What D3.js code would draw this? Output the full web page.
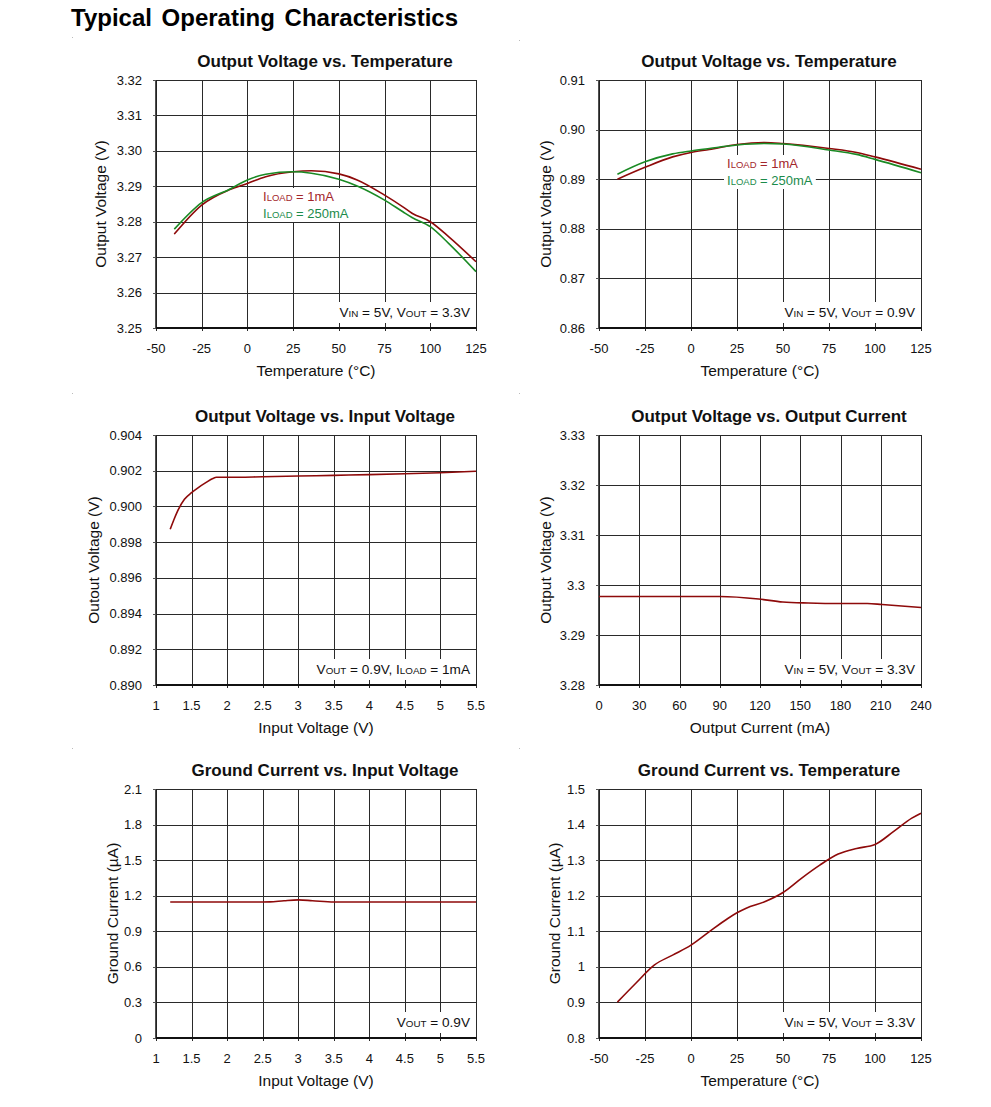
<!DOCTYPE html>
<html>
<head>
<meta charset="utf-8">
<script src="https://cdn.jsdelivr.net/npm/d3@7"></script>
<style>
  html, body { margin: 0; padding: 0; background: #fff; }
  svg { display: block; font-family: "Liberation Sans", Arial, sans-serif; }
</style>
</head>
<body>
<svg id="chart" width="991" height="1107"></svg>
<script>
// ---------- DATA ----------
// Chart 1: Output Voltage vs Temperature (3.3V)
const tempC1 = [-40, -25, -10, 0, 10, 25, 35, 50, 60, 75, 85, 90, 100, 110, 125];
const vout33_1mA   = [3.2765, 3.2847, 3.2890, 3.2908, 3.2927, 3.2941, 3.2944, 3.2935, 3.2918, 3.2875, 3.2842, 3.2824, 3.2800, 3.2758, 3.2687];
const vout33_250mA = [3.2779, 3.2854, 3.2891, 3.2918, 3.2934, 3.2941, 3.2937, 3.2920, 3.2901, 3.2861, 3.2828, 3.2812, 3.2786, 3.2739, 3.2659];

// Chart 2: Output Voltage vs Temperature (0.9V)
const tempC2 = [-40, -25, -10, 0, 10, 25, 40, 50, 75, 90, 100, 125];
const vout09_1mA   = [0.8900, 0.8924, 0.8945, 0.8954, 0.8960, 0.8970, 0.8974, 0.8972, 0.8962, 0.8954, 0.8945, 0.8920];
const vout09_250mA = [0.8910, 0.8935, 0.8951, 0.8957, 0.8962, 0.8969, 0.8972, 0.8971, 0.8959, 0.8950, 0.8940, 0.8913];

// Chart 3: Output Voltage vs Input Voltage
const vin3  = [1.2, 1.25, 1.3, 1.4, 1.5, 1.6, 1.7, 1.8, 1.85, 2.0, 2.5, 3.0, 3.5, 4.0, 4.5, 5.0, 5.5];
const vout3 = [0.89872, 0.89924, 0.89971, 0.90040, 0.90077, 0.90107, 0.90133, 0.90157, 0.90163, 0.90163, 0.90166, 0.90170, 0.90174, 0.90178, 0.90183, 0.90189, 0.90197];

// Chart 4: Output Voltage vs Output Current
const iout4 = [0, 30, 60, 90, 119, 137, 156, 180, 200, 211, 240];
const vout4 = [3.2977, 3.2977, 3.2977, 3.2977, 3.2972, 3.2966, 3.2964, 3.2963, 3.2963, 3.2961, 3.2955];

// Chart 5: Ground Current vs Input Voltage
const vin5 = [1.2, 1.5, 2.0, 2.5, 2.6, 2.8, 3.0, 3.2, 3.5, 4.0, 4.5, 5.0, 5.5];
const ignd5 = [1.147, 1.147, 1.147, 1.147, 1.148, 1.158, 1.165, 1.158, 1.147, 1.147, 1.147, 1.147, 1.147];

// Chart 6: Ground Current vs Temperature
const tempC6 = [-40, -30, -20, -10, 0, 10, 20, 25, 30, 40, 50, 60, 70, 80, 90, 100, 110, 120, 125];
const ignd6 = [0.901, 0.954, 1.005, 1.033, 1.061, 1.099, 1.136, 1.152, 1.165, 1.183, 1.209, 1.249, 1.286, 1.317, 1.333, 1.344, 1.380, 1.418, 1.432];

// Tick labels
const tempTicks = [-50, -25, 0, 25, 50, 75, 100, 125];
const vinTicks = ["1", "1.5", "2", "2.5", "3", "3.5", "4", "4.5", "5", "5.5"];
const ioutTicks = [0, 30, 60, 90, 120, 150, 180, 210, 240];
const yTicks1 = ["3.25", "3.26", "3.27", "3.28", "3.29", "3.30", "3.31", "3.32"];
const yTicks2 = ["0.86", "0.87", "0.88", "0.89", "0.90", "0.91"];
const yTicks3 = ["0.890", "0.892", "0.894", "0.896", "0.898", "0.900", "0.902", "0.904"];
const yTicks4 = ["3.28", "3.29", "3.3", "3.31", "3.32", "3.33"];
const yTicks5 = ["0", "0.3", "0.6", "0.9", "1.2", "1.5", "1.8", "2.1"];
const yTicks6 = ["0.8", "0.9", "1", "1.1", "1.2", "1.3", "1.4", "1.5"];

// ---------- DRAWING ----------
const RED = "#8e0a0a";
const GREEN = "#1a8a24";
const RED_TXT = "#a3262b";
const GREEN_TXT = "#1b8b4b";
const svg = d3.select("#chart");

svg.append("text").attr("x", 71).attr("y", 26)
  .attr("font-size", 24).attr("font-weight", "bold").attr("word-spacing", 3)
  .attr("fill", "#000").text("Typical Operating Characteristics");

// tiny artifact dots
[[72,37],[519,40],[72,393],[519,393],[72,748],[519,748]].forEach(p => {
  svg.append("rect").attr("x", p[0]).attr("y", p[1]).attr("width", 1).attr("height", 1).attr("fill", "#bbb");
});

function subText(sel, parts, sub) {
  parts.forEach(p => {
    const t = sel.append("tspan").text(p.t);
    if (p.s) t.attr("font-size", sub);
  });
}

function makeChart(c) {
  const g = svg.append("g");
  const x = d3.scaleLinear().domain(c.xDomain).range([c.left, c.right]);
  const y = d3.scaleLinear().domain(c.yDomain).range([c.bottom, c.top]);

  const xt = c.xTicks.map(Number);
  const yt = c.yTicks.map(Number);
  g.append("g").selectAll("line").data(xt).join("line")
    .attr("x1", d => Math.round(x(d)) + 0.5).attr("x2", d => Math.round(x(d)) + 0.5)
    .attr("y1", c.top).attr("y2", c.bottom)
    .attr("stroke", "#2a2a2a").attr("stroke-width", 1);
  g.append("g").selectAll("line").data(yt).join("line")
    .attr("y1", d => Math.round(y(d)) + 0.5).attr("y2", d => Math.round(y(d)) + 0.5)
    .attr("x1", c.left).attr("x2", c.right)
    .attr("stroke", "#2a2a2a").attr("stroke-width", 1);

  const ann = g.append("text").attr("font-size", 13.6).attr("fill", "#111")
    .attr("text-anchor", "end")
    .attr("x", c.right - 6).attr("y", c.bottom - 11);
  subText(ann, c.ann, 9.8);

  const legendTexts = [];
  (c.legend || []).forEach((L, i) => {
    const t = g.append("text").attr("font-size", 13).attr("fill", L.color)
      .attr("x", c.left + c.legX).attr("y", c.top + c.legY + i * 17);
    subText(t, [{t: "I"}, {t: "LOAD", s: true}, {t: " = " + L.label}], 9.5);
    legendTexts.push(t);
  });

  const bb = ann.node().getBBox();
  g.insert("rect", "text").attr("x", bb.x - 4).attr("y", bb.y - 3)
    .attr("width", c.right - (bb.x - 4) - 1).attr("height", c.bottom - (bb.y - 3) - 1)
    .attr("fill", "#fff");
  if (legendTexts.length) {
    let x0 = Infinity, y0 = Infinity, x1 = -Infinity, y1 = -Infinity;
    legendTexts.forEach(t => {
      const b = t.node().getBBox();
      x0 = Math.min(x0, b.x); y0 = Math.min(y0, b.y);
      x1 = Math.max(x1, b.x + b.width); y1 = Math.max(y1, b.y + b.height);
    });
    g.insert("rect", "text").attr("x", x0 - 3).attr("y", y0 - 1)
      .attr("width", x1 - x0 + 6).attr("height", y1 - y0 + 2).attr("fill", "#fff");
  }
  g.append("g").selectAll("line").data(xt).join("line")
    .attr("x1", d => Math.round(x(d)) + 0.5).attr("x2", d => Math.round(x(d)) + 0.5)
    .attr("y1", c.bottom - 5).attr("y2", c.bottom + 3)
    .attr("stroke", "#2a2a2a");

  g.append("line").attr("x1", c.left).attr("x2", c.left).attr("y1", c.top).attr("y2", c.bottom + 1)
    .attr("stroke", "#222").attr("stroke-width", 1.6);
  g.append("line").attr("x1", c.left).attr("x2", c.right + 0.5).attr("y1", c.bottom).attr("y2", c.bottom)
    .attr("stroke", "#111").attr("stroke-width", 1.8);
  g.append("g").selectAll("line").data(yt).join("line")
    .attr("y1", d => Math.round(y(d)) + 0.5).attr("y2", d => Math.round(y(d)) + 0.5)
    .attr("x1", c.left - 3).attr("x2", c.left)
    .attr("stroke", "#555");

  g.append("g").selectAll("text").data(c.xTicks).join("text")
    .attr("x", d => x(+d)).attr("y", c.bottom + 25)
    .attr("text-anchor", "middle").attr("font-size", 13).attr("fill", "#111")
    .text(d => d);
  g.append("g").selectAll("text").data(c.yTicks).join("text")
    .attr("x", c.left - 14).attr("y", d => y(+d) + 4.5)
    .attr("text-anchor", "end").attr("font-size", 13).attr("fill", "#111")
    .text(d => d);

  g.append("text").attr("x", (c.left + c.right) / 2).attr("y", c.bottom + 48)
    .attr("text-anchor", "middle").attr("font-size", 15.5).attr("fill", "#111").text(c.xTitle);
  g.append("text")
    .attr("transform", `translate(${c.yTitleX},${(c.top + c.bottom) / 2}) rotate(-90)`)
    .attr("text-anchor", "middle").attr("font-size", 15.5).attr("fill", "#111").text(c.yTitle);

  g.append("text").attr("x", (c.left + c.right) / 2 + 9).attr("y", c.top - 13)
    .attr("text-anchor", "middle").attr("font-size", 17).attr("font-weight", "bold")
    .attr("fill", "#111").text(c.title);

  const line = d3.line().x(d => x(d[0])).y(d => y(d[1])).curve(d3.curveMonotoneX);
  c.series.forEach(s => {
    g.append("path").datum(s.xs.map((v, i) => [v, s.ys[i]]))
      .attr("d", line).attr("fill", "none").attr("stroke", s.color).attr("stroke-width", 1.6);
  });
}

const L = 156, R = 476, L2 = 599, R2 = 921;

makeChart({
  title: "Output Voltage vs. Temperature", left: L, right: R, top: 80, bottom: 328,
  xDomain: [-50, 125], yDomain: [3.25, 3.32], xTicks: tempTicks, yTicks: yTicks1,
  xTitle: "Temperature (°C)", yTitle: "Output Voltage (V)", yTitleX: 106,
  ann: [{t: "V"}, {t: "IN", s: true}, {t: " = 5V, V"}, {t: "OUT", s: true}, {t: " = 3.3V"}],
  legend: [{label: "1mA", color: RED_TXT}, {label: "250mA", color: GREEN_TXT}], legX: 107, legY: 121,
  series: [{xs: tempC1, ys: vout33_1mA, color: RED}, {xs: tempC1, ys: vout33_250mA, color: GREEN}]
});
makeChart({
  title: "Output Voltage vs. Temperature", left: L2, right: R2, top: 80, bottom: 328,
  xDomain: [-50, 125], yDomain: [0.86, 0.91], xTicks: tempTicks, yTicks: yTicks2,
  xTitle: "Temperature (°C)", yTitle: "Output Voltage (V)", yTitleX: 551,
  ann: [{t: "V"}, {t: "IN", s: true}, {t: " = 5V, V"}, {t: "OUT", s: true}, {t: " = 0.9V"}],
  legend: [{label: "1mA", color: RED_TXT}, {label: "250mA", color: GREEN_TXT}], legX: 128, legY: 88,
  series: [{xs: tempC2, ys: vout09_1mA, color: RED}, {xs: tempC2, ys: vout09_250mA, color: GREEN}]
});
makeChart({
  title: "Output Voltage vs. Input Voltage", left: L, right: R, top: 435, bottom: 685,
  xDomain: [1, 5.5], yDomain: [0.890, 0.904], xTicks: vinTicks, yTicks: yTicks3,
  xTitle: "Input Voltage (V)", yTitle: "Outout Voltage (V)", yTitleX: 99,
  ann: [{t: "V"}, {t: "OUT", s: true}, {t: " = 0.9V, I"}, {t: "LOAD", s: true}, {t: " = 1mA"}],
  series: [{xs: vin3, ys: vout3, color: RED}]
});
makeChart({
  title: "Output Voltage vs. Output Current", left: L2, right: R2, top: 435, bottom: 685,
  xDomain: [0, 240], yDomain: [3.28, 3.33], xTicks: ioutTicks, yTicks: yTicks4,
  xTitle: "Output Current (mA)", yTitle: "Output Voltage (V)", yTitleX: 551,
  ann: [{t: "V"}, {t: "IN", s: true}, {t: " = 5V, V"}, {t: "OUT", s: true}, {t: " = 3.3V"}],
  series: [{xs: iout4, ys: vout4, color: RED}]
});
makeChart({
  title: "Ground Current vs. Input Voltage", left: L, right: R, top: 789, bottom: 1038,
  xDomain: [1, 5.5], yDomain: [0, 2.1], xTicks: vinTicks, yTicks: yTicks5,
  xTitle: "Input Voltage (V)", yTitle: "Ground Current (µA)", yTitleX: 118,
  ann: [{t: "V"}, {t: "OUT", s: true}, {t: " = 0.9V"}],
  series: [{xs: vin5, ys: ignd5, color: RED}]
});
makeChart({
  title: "Ground Current vs. Temperature", left: L2, right: R2, top: 789, bottom: 1038,
  xDomain: [-50, 125], yDomain: [0.8, 1.5], xTicks: tempTicks, yTicks: yTicks6,
  xTitle: "Temperature (°C)", yTitle: "Ground Current (µA)", yTitleX: 560,
  ann: [{t: "V"}, {t: "IN", s: true}, {t: " = 5V, V"}, {t: "OUT", s: true}, {t: " = 3.3V"}],
  series: [{xs: tempC6, ys: ignd6, color: RED}]
});
</script>
</body>
</html>
